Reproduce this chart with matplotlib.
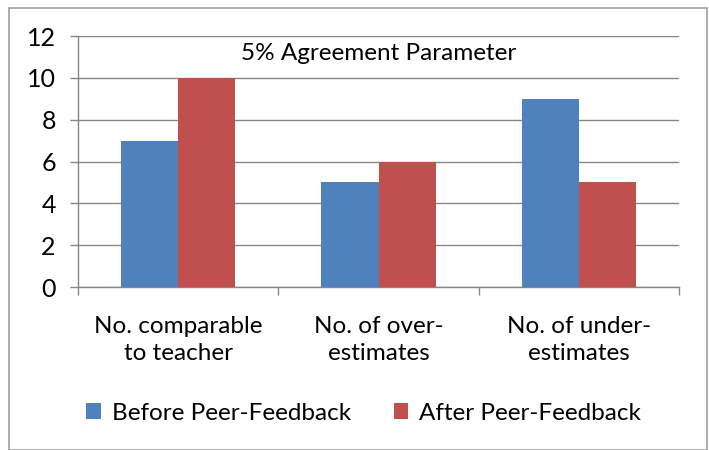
import matplotlib
matplotlib.use("Agg")
import matplotlib.pyplot as plt
from matplotlib.patches import Rectangle
import numpy as np

categories = ["No. comparable\nto teacher", "No. of over-\nestimates", "No. of under-\nestimates"]
before = [7, 5, 9]
after = [10, 6, 5]
series_names = ["Before Peer-Feedback", "After Peer-Feedback"]
yticks = [0, 2, 4, 6, 8, 10, 12]
title = "5% Agreement Parameter"

plt.rcParams['font.family'] = ['Lato', 'DejaVu Sans']
blue = "#4F81BD"
red = "#C0504D"
grid_c = "#868686"
fs = 17.5

fig = plt.figure(figsize=(7.09, 4.5), dpi=100)
ax = fig.add_axes([0.110, 0.362, 0.848, 0.558])

x = np.arange(len(categories))
w = 0.285
ax.bar(x - w/2, before, w, color=blue, label=series_names[0], zorder=3)
ax.bar(x + w/2, after, w, color=red, label=series_names[1], zorder=3)

ax.set_xlim(-0.5, len(categories) - 0.5)
ax.set_ylim(0, 12)
ax.set_yticks(yticks)
ax.set_yticklabels([str(v) for v in yticks], fontsize=18)
ax.yaxis.grid(True, color=grid_c, linewidth=1, zorder=0)
ax.tick_params(axis='y', length=6, color=grid_c, width=1, pad=10)

ax.set_xticks(x)
ax.set_xticklabels(categories, fontsize=fs, linespacing=1.35)
ax.tick_params(axis='x', length=0, pad=21)
ax.set_xticks(np.arange(-0.5, len(categories), 1.0), minor=True)
ax.tick_params(axis='x', which='minor', length=6, color=grid_c, width=1, direction='out')

for s in ['top', 'right']:
    ax.spines[s].set_visible(False)
for s in ['left', 'bottom']:
    ax.spines[s].set_color(grid_c)
    ax.spines[s].set_linewidth(1)

ax.text(0.5, 0.93, title, transform=ax.transAxes, ha='center', va='center', fontsize=fs)

leg = fig.legend(loc='center', bbox_to_anchor=(0.513, 0.082), ncol=2, frameon=False,
                 fontsize=fs, handlelength=0.6, handleheight=0.6, handletextpad=0.45,
                 columnspacing=1.75)

fig.patches.append(Rectangle((9/709, 0.0), 698/709, 1 - 8/450, transform=fig.transFigure,
                             fill=False, edgecolor="#A0A0A0", linewidth=1.2))

fig.savefig("out.png", dpi=100)
